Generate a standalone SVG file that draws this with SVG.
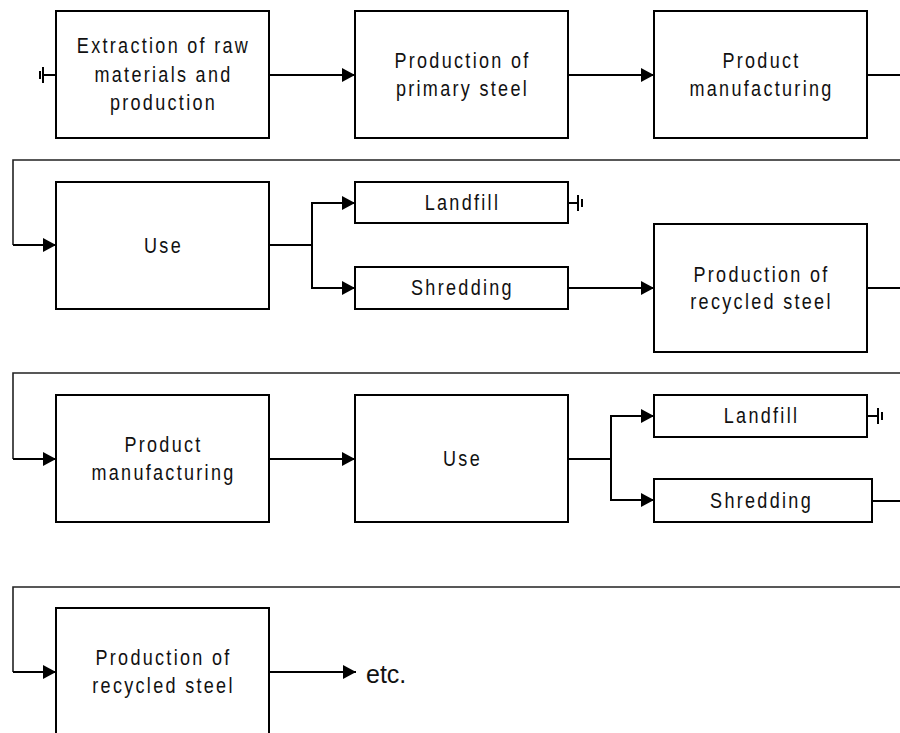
<svg xmlns="http://www.w3.org/2000/svg" width="900" height="733" viewBox="0 0 900 733">
<defs>
<marker id="arr" markerUnits="userSpaceOnUse" markerWidth="14" markerHeight="14" refX="13" refY="7" orient="auto" viewBox="0 0 14 14">
<path d="M0,0 L13,7 L0,14 z" fill="#000"/>
</marker>
<style>
.box{fill:#fff;stroke:#000;stroke-width:2}
.ln{fill:none;stroke:#000;stroke-width:2}
.sep{fill:none;stroke:#222;stroke-width:1.6}
.ar{fill:none;stroke:#000;stroke-width:2;marker-end:url(#arr)}
.t{font-family:"Liberation Sans",Arial,sans-serif;font-size:22px;letter-spacing:2.8px;text-anchor:middle;fill:#111}
.etc{font-family:"Liberation Sans",Arial,sans-serif;font-size:25px;fill:#111}
</style>
</defs>
<rect width="900" height="733" fill="#fff"/>

<g id="connectors">
<path class="ln" d="M43,75 H56"/>
<path class="ln" d="M43,67 V83"/>
<path class="ln" d="M40,71 V79" stroke-width="1.5"/>
<path class="ar" d="M269,75 H355"/>
<path class="ar" d="M568,75 H654"/>
<path class="ln" d="M867,75 H900"/>
<path class="sep" d="M900,160 H13 V245"/>
<path class="ar" d="M13,245 H56"/>
<path class="ln" d="M269,245 H312"/>
<path class="ln" d="M312,203 V288"/>
<path class="ar" d="M311,203 H355"/>
<path class="ar" d="M311,288 H355"/>
<path class="ln" d="M568,203 H578"/>
<path class="ln" d="M578,195 V211"/>
<path class="ln" d="M582,199 V207" stroke-width="1.5"/>
<path class="ar" d="M568,288 H654"/>
<path class="ln" d="M867,288 H900"/>
<path class="sep" d="M900,373 H13 V459"/>
<path class="ar" d="M13,459 H56"/>
<path class="ar" d="M269,459 H355"/>
<path class="ln" d="M568,459 H611"/>
<path class="ln" d="M611,416 V500"/>
<path class="ar" d="M610,416 H654"/>
<path class="ar" d="M610,500 H654"/>
<path class="ln" d="M867,416 H878"/>
<path class="ln" d="M878,408 V424"/>
<path class="ln" d="M882,412 V420" stroke-width="1.5"/>
<path class="ln" d="M872,501 H900"/>
<path class="sep" d="M900,587 H13 V672"/>
<path class="ar" d="M13,672 H56"/>
<path class="ar" d="M269,672 H356"/>
</g>

<g id="n-extraction">
<rect class="box" x="56" y="11" width="213" height="127"/>
<g transform="scale(0.82 1)">
<text class="t" x="199.4" y="53">Extraction of raw</text>
<text class="t" x="199.4" y="82">materials and</text>
<text class="t" x="199.4" y="110">production</text>
</g>
</g>
<g id="n-primary">
<rect class="box" x="355" y="11" width="213" height="127"/>
<g transform="scale(0.82 1)">
<text class="t" x="564" y="68">Production of</text>
<text class="t" x="564" y="96.5">primary steel</text>
</g>
</g>
<g id="n-mfg1">
<rect class="box" x="654" y="11" width="213" height="127"/>
<g transform="scale(0.82 1)">
<text class="t" x="928.7" y="68">Product</text>
<text class="t" x="928.7" y="96.5">manufacturing</text>
</g>
</g>

<g id="n-use1">
<rect class="box" x="56" y="182" width="213" height="127"/>
<g transform="scale(0.82 1)">
<text class="t" x="199.4" y="253">Use</text>
</g>
</g>
<g id="n-landfill1">
<rect class="box" x="355" y="182" width="213" height="41"/>
<g transform="scale(0.82 1)">
<text class="t" x="564" y="210.5">Landfill</text>
</g>
</g>
<g id="n-shred1">
<rect class="box" x="355" y="267" width="213" height="42"/>
<g transform="scale(0.82 1)">
<text class="t" x="564" y="295">Shredding</text>
</g>
</g>
<g id="n-recycled1">
<rect class="box" x="654" y="224" width="213" height="128"/>
<g transform="scale(0.82 1)">
<text class="t" x="928.7" y="282">Production of</text>
<text class="t" x="928.7" y="309.5">recycled steel</text>
</g>
</g>

<g id="n-mfg2">
<rect class="box" x="56" y="395" width="213" height="127"/>
<g transform="scale(0.82 1)">
<text class="t" x="199.4" y="452">Product</text>
<text class="t" x="199.4" y="480">manufacturing</text>
</g>
</g>
<g id="n-use2">
<rect class="box" x="355" y="395" width="213" height="127"/>
<g transform="scale(0.82 1)">
<text class="t" x="564" y="466">Use</text>
</g>
</g>
<g id="n-landfill2">
<rect class="box" x="654" y="395" width="213" height="42"/>
<g transform="scale(0.82 1)">
<text class="t" x="928.7" y="423">Landfill</text>
</g>
</g>
<g id="n-shred2">
<rect class="box" x="654" y="479" width="218" height="43"/>
<g transform="scale(0.82 1)">
<text class="t" x="928.7" y="508">Shredding</text>
</g>
</g>

<g id="n-recycled2">
<rect class="box" x="56" y="608" width="213" height="140"/>
<g transform="scale(0.82 1)">
<text class="t" x="199.4" y="665">Production of</text>
<text class="t" x="199.4" y="693">recycled steel</text>
</g>
</g>
<g id="n-etc">
<text class="etc" x="366" y="683">etc.</text>
</g>
</svg>
